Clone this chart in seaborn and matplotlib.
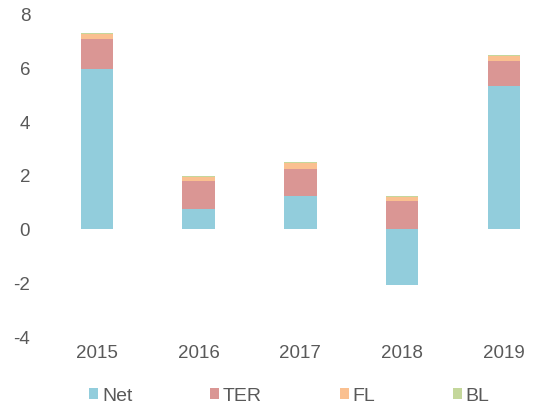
import matplotlib
matplotlib.use("Agg")
import matplotlib.pyplot as plt
import seaborn as sns
import numpy as np
import pandas as pd
from matplotlib.patches import Patch

years = ["2015", "2016", "2017", "2018", "2019"]
net = [5.94, 0.74, 1.23, -2.07, 5.28]
ter = [1.10, 1.03, 0.98, 1.03, 0.96]
fl = [0.18, 0.16, 0.22, 0.14, 0.18]
bl = [0.04, 0.04, 0.04, 0.06, 0.02]

series = ["Net", "TER", "FL", "BL"]
colors = {"Net": "#92CDDC", "TER": "#DA9694", "FL": "#FAC090", "BL": "#C4D79B"}

sns.set_theme(style="white")
plt.rcParams["font.family"] = ["Liberation Sans", "DejaVu Sans"]

base = np.maximum(np.array(net), 0)
top_ter = base + np.array(ter)
top_fl = top_ter + np.array(fl)
top_bl = top_fl + np.array(bl)

df = pd.DataFrame({"year": years, "Net": net, "TER": top_ter, "FL": top_fl, "BL": top_bl})

fig = plt.figure(figsize=(5.34, 4.10), dpi=100)
ax = fig.add_axes([46.15 / 534, 72 / 410, 508.5 / 534, 324 / 410])

for s in ["BL", "FL", "TER", "Net"]:
    sns.barplot(data=df, x="year", y=s, color=colors[s], width=0.32,
                saturation=1, ax=ax, linewidth=0)

ax.set_xlim(-0.5, 4.5)
ax.set_ylim(-4, 8)
ax.set_yticks([-4, -2, 0, 2, 4, 6, 8])
ax.set_yticklabels(["-4", "-2", "0", "2", "4", "6", "8"])
ax.set_xlabel("")
ax.set_ylabel("")
for sp in ax.spines.values():
    sp.set_visible(False)
ax.tick_params(axis="y", length=0, pad=11.5, labelsize=13.5, labelcolor="#595959")
ax.tick_params(axis="x", length=0, pad=5, labelsize=13.5, labelcolor="#595959")
ax.grid(False)

handles = [Patch(facecolor=colors[s], edgecolor="none", label=s) for s in series]
fig.legend(handles=handles, loc="center", bbox_to_anchor=(289.4 / 534, 13 / 410),
           ncol=4, frameon=False, fontsize=14, handlelength=0.46, handleheight=0.46,
           handletextpad=0.2, columnspacing=4.0, labelcolor="#595959", borderpad=0)

fig.savefig("out.png", dpi=100)
